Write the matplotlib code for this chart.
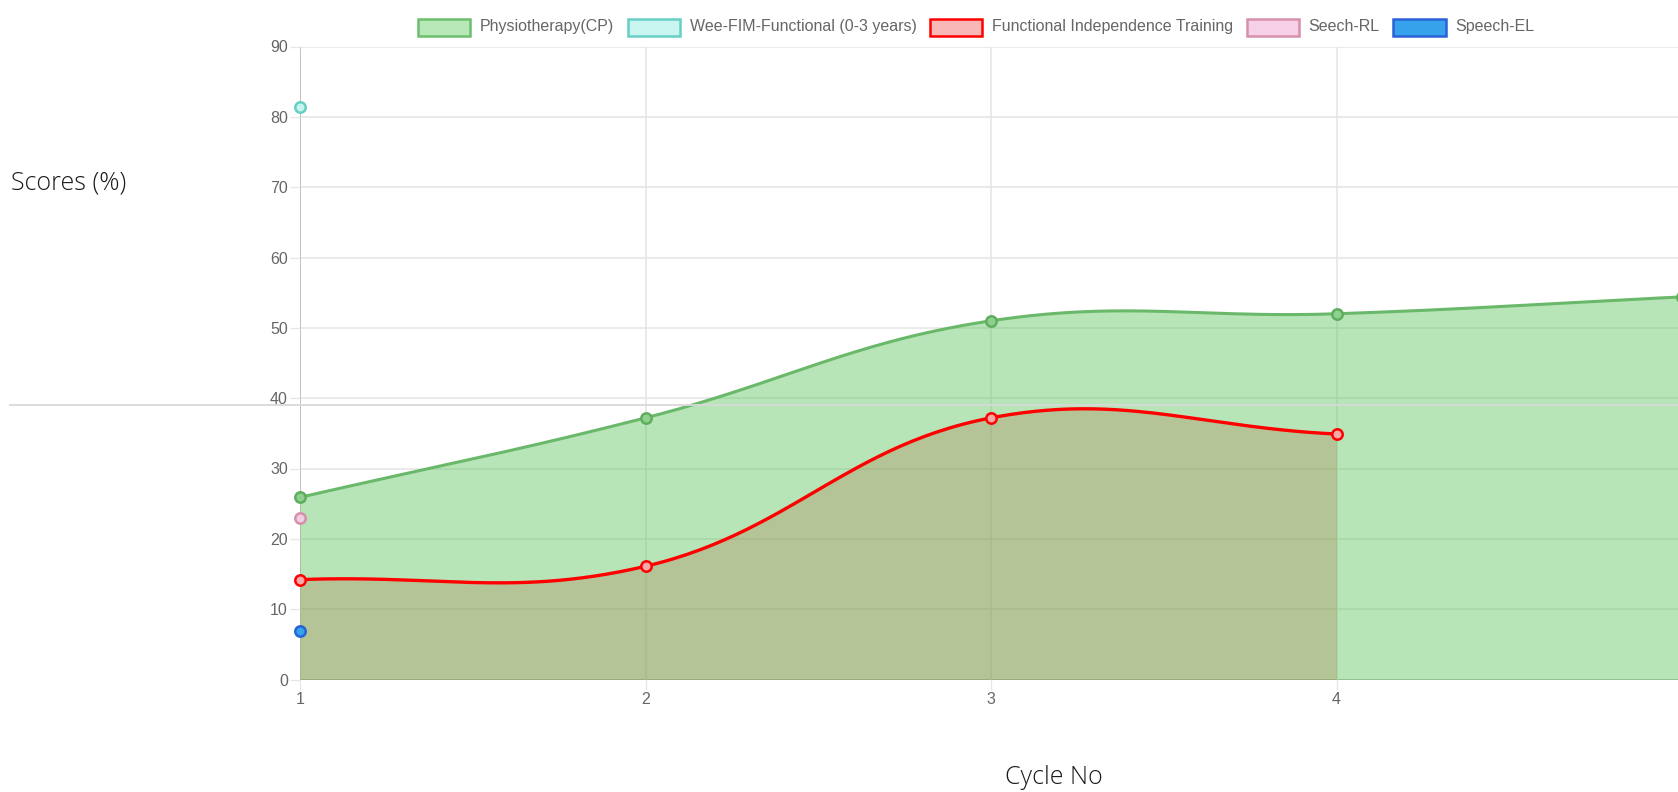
import numpy as np
import matplotlib
matplotlib.use("Agg")
import matplotlib.pyplot as plt
from matplotlib.patches import Rectangle
from matplotlib.lines import Line2D

# ---------------- data ----------------
cycles = [1, 2, 3, 4, 5]
physio = [25.9, 37.2, 51.0, 52.0, 54.4]
wee_fim = [81.4]
fit = [14.2, 16.1, 37.2, 34.9]
seech_rl = [23.0]
speech_el = [6.9]
y_ticks = list(range(0, 91, 10))
x_labels = ["1", "2", "3", "4", "5"]
legend_labels = ["Physiotherapy(CP)", "Wee-FIM-Functional (0-3 years)",
                 "Functional Independence Training", "Seech-RL", "Speech-EL"]

W, H = 1678, 792
fig = plt.figure(figsize=(W / 100, H / 100), dpi=100)
ax = fig.add_axes([300 / W, 1 - 679.5 / H, 1382 / W, 633 / H])
ax.set_xlim(1, 5)
ax.set_ylim(0, 90)

GRID = "#e6e6e6"
ZERO = "#b5b5b5"
TICKC = "#666666"


def chartjs_curve(xs, ys, tension=0.4, n=60):
    pts = ax.transData.transform(np.column_stack([xs, ys]).astype(float))
    N = len(pts)
    cp_prev = pts.copy()
    cp_next = pts.copy()
    for i in range(N):
        cur = pts[i]
        prev = pts[i - 1] if i > 0 else cur
        nxt = pts[i + 1] if i < N - 1 else cur
        d01 = np.hypot(*(cur - prev))
        d12 = np.hypot(*(nxt - cur))
        tot = d01 + d12
        s01 = d01 / tot if tot else 0
        s12 = d12 / tot if tot else 0
        cp_prev[i] = cur - tension * s01 * (nxt - prev)
        cp_next[i] = cur + tension * s12 * (nxt - prev)
    t = np.linspace(0, 1, n)[:, None]
    segs = []
    for i in range(N - 1):
        p0, p1, p2, p3 = pts[i], cp_next[i], cp_prev[i + 1], pts[i + 1]
        seg = (1 - t) ** 3 * p0 + 3 * (1 - t) ** 2 * t * p1 + 3 * (1 - t) * t ** 2 * p2 + t ** 3 * p3
        segs.append(seg if i == 0 else seg[1:])
    d = np.vstack(segs)
    out = ax.transData.inverted().transform(d)
    return out[:, 0], out[:, 1]


# grid
for yv in y_ticks:
    ax.axhline(yv, color=ZERO if yv == 0 else GRID, lw=1.2, zorder=0)
for xv in cycles:
    ax.axvline(xv, color=ZERO if xv == 1 else GRID, lw=1.2, zorder=0)

# physiotherapy
px, py = chartjs_curve(cycles, physio)
ax.fill_between(px, 0, py, color=(75 / 255, 192 / 255, 75 / 255), alpha=0.4, lw=0, zorder=1)
ax.plot(px, py, color="#6ab86a", lw=2.2, zorder=3, solid_capstyle="round")

# functional independence training
fx, fy = chartjs_curve(cycles[:len(fit)], fit)
ax.fill_between(fx, 0, fy, color=(176 / 255, 122 / 255, 75 / 255), alpha=0.3, lw=0, zorder=2)
ax.plot(fx, fy, color="#ff0000", lw=2.4, zorder=3)

ms = 7.5
ax.plot(cycles, physio, "o", ms=ms, mfc="#8fcf8f", mec="#5eae5e", mew=1.8, zorder=4, clip_on=False)
ax.plot(cycles[:len(fit)], fit, "o", ms=ms, mfc="#f7a8a8", mec="#ff0000", mew=1.8, zorder=4, clip_on=False)
ax.plot(cycles[:len(wee_fim)], wee_fim, "o", ms=ms, mfc="#c8f3ee", mec="#66cfc3", mew=1.8, zorder=4, clip_on=False)
ax.plot(cycles[:len(seech_rl)], seech_rl, "o", ms=ms, mfc="#f0cfe2", mec="#d88fab", mew=1.8, zorder=4, clip_on=False)
ax.plot(cycles[:len(speech_el)], speech_el, "o", ms=ms, mfc="#36a2eb", mec="#2563d6", mew=1.8, zorder=4, clip_on=False)

# axes styling
for s in ax.spines.values():
    s.set_visible(False)
ax.set_yticks(y_ticks)
ax.set_xticks(cycles)
ax.set_xticklabels(x_labels)
ax.tick_params(axis="both", length=7.2, width=0.9, color=GRID, labelcolor=TICKC,
               labelsize=11.5, pad=1.5)
for lab in ax.get_xticklabels() + ax.get_yticklabels():
    lab.set_fontfamily("Liberation Sans")

# stray separator line
fig.add_artist(Line2D([10 / W, 1.0], [1 - 405 / H, 1 - 405 / H], color="#d9d9d9", lw=1.3,
                      transform=fig.transFigure))

# axis titles
fig.text(11 / W, 1 - 183 / H, "Scores (%)", fontsize=18, family="Open Sans", weight="light",
         color="#1a1a1a", ha="left", va="center")
fig.text(1054 / W, 1 - 777 / H, "Cycle No", fontsize=18, family="Open Sans", weight="light",
         color="#1a1a1a", ha="center", va="center")

# legend (chart.js style, drawn in pixel space)
faces = ["#b8e8b7", "#c8f5ef", "#f8b8b8", "#f5d0e6", "#36a2eb"]
edges = ["#6cbf6c", "#66cfc3", "#ff0000", "#d88fab", "#2a62d6"]
renderer = fig.canvas.get_renderer()
box_w, box_h, gap_t, gap_i = 52.5, 16, 9.5, 13.5
widths = []
texts = []
for lab in legend_labels:
    t = fig.text(0, 0, lab, fontsize=11.5, family="Liberation Sans", color=TICKC,
                 ha="left", va="center")
    texts.append(t)
    widths.append(t.get_window_extent(renderer).width)
total = sum(box_w + gap_t + w for w in widths) + gap_i * (len(widths) - 1)
x = 976 - total / 2
yc = 27.5
for t, w, fc, ec in zip(texts, widths, faces, edges):
    fig.add_artist(Rectangle((x / W, 1 - (yc + box_h / 2) / H), box_w / W, box_h / H,
                             transform=fig.transFigure, facecolor=fc, edgecolor=ec, lw=1.8))
    t.set_position(((x + box_w + gap_t) / W, 1 - (yc - 1) / H))
    x += box_w + gap_t + w + gap_i

fig.savefig("out.png", dpi=100)
